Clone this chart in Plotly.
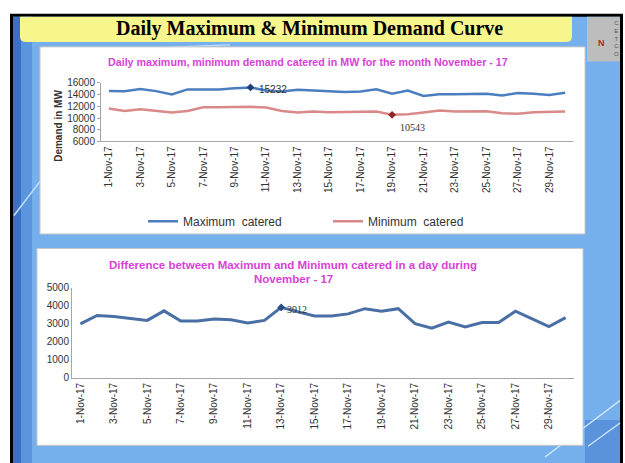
import plotly.graph_objects as go

W, H = 625, 463

days = [f"{d}-Nov-17" for d in range(1, 31)]
tick_labels = [f"{d}-Nov-17" for d in range(1, 30, 2)]

max_catered = [14620, 14600, 14950, 14600, 14050, 14900, 14900, 14900, 15100, 15232,
               14720, 14550, 14850, 14700, 14600, 14450, 14550, 14900, 14170, 14700,
               13780, 14050, 14050, 14050, 14170, 13850, 14280, 14170, 13950, 14330]
min_catered = [11620, 11220, 11500, 11220, 10940, 11220, 11830, 11830, 11830, 11940,
               11780, 11220, 10938, 11100, 11000, 11000, 11000, 11100, 10543, 10650,
               10940, 11270, 11100, 11150, 11150, 10830, 10720, 11000, 11100, 11100]
difference = [3000, 3460, 3410, 3320, 3190, 3720, 3160, 3160, 3270, 3230,
              3050, 3190, 3912, 3660, 3430, 3430, 3550, 3840, 3700, 3840,
              3010, 2760, 3100, 2830, 3070, 3070, 3700, 3280, 2850, 3340]

i_max = max_catered.index(max(max_catered))
i_min = min_catered.index(min(min_catered))
i_diff = difference.index(max(difference))

def px(x):
    return x / W

def py(y):
    return 1 - y / H

BLUE = "#4a7ebf"
RED = "#d98a88"
DIFF = "#4a6fa5"
MAG = "#d93fd9"
TXT = "#333333"
BG = "#76b0ec"

fig = go.Figure()

fig.add_trace(go.Scatter(x=days, y=max_catered, mode="lines", name="Maximum  catered",
                         line=dict(color=BLUE, width=2.5), xaxis="x", yaxis="y"))
fig.add_trace(go.Scatter(x=days, y=min_catered, mode="lines", name="Minimum  catered",
                         line=dict(color=RED, width=2.5), xaxis="x", yaxis="y"))
fig.add_trace(go.Scatter(x=[days[i_max]], y=[max_catered[i_max]], mode="markers",
                         marker=dict(symbol="diamond", size=6, color="#1f3f7a"),
                         showlegend=False, xaxis="x", yaxis="y"))
fig.add_trace(go.Scatter(x=[days[i_min]], y=[min_catered[i_min]], mode="markers",
                         marker=dict(symbol="diamond", size=6, color="#8b2a2a"),
                         showlegend=False, xaxis="x", yaxis="y"))
fig.add_trace(go.Scatter(x=days, y=difference, mode="lines",
                         line=dict(color=DIFF, width=3), showlegend=False,
                         xaxis="x2", yaxis="y2"))
fig.add_trace(go.Scatter(x=[days[i_diff]], y=[difference[i_diff]], mode="markers",
                         marker=dict(symbol="diamond", size=6, color="#2a4a80"),
                         showlegend=False, xaxis="x2", yaxis="y2"))

shapes = []
# black frame + blue slide background
shapes.append(dict(type="rect", xref="paper", yref="paper", x0=px(11.5), x1=px(621.5),
                   y0=py(480), y1=py(9.5), line=dict(color="black", width=3),
                   fillcolor=BG, layer="below"))
# darker left strip
shapes.append(dict(type="rect", xref="paper", yref="paper", x0=px(13), x1=px(21),
                   y0=py(480), y1=py(11), line=dict(width=0),
                   fillcolor="#3a70c8", layer="below"))
shapes.append(dict(type="rect", xref="paper", yref="paper", x0=px(21), x1=px(32),
                   y0=py(480), y1=py(11), line=dict(width=0),
                   fillcolor="#5a95de", layer="below"))
# light streaks
shapes.append(dict(type="line", xref="paper", yref="paper", x0=px(14), y0=py(215),
                   x1=px(40), y1=py(180), line=dict(color="#c0e0ff", width=1.5), layer="below"))
shapes.append(dict(type="line", xref="paper", yref="paper", x0=px(150), y0=py(43),
                   x1=px(230), y1=py(40), line=dict(color="#c0e0ff", width=1.2), layer="below"))
shapes.append(dict(type="rect", xref="paper", yref="paper", x0=px(585), x1=px(620),
                   y0=py(470), y1=py(425), line=dict(width=0),
                   fillcolor="#5a93dc", layer="below"))
shapes.append(dict(type="line", xref="paper", yref="paper", x0=px(545), y0=py(463),
                   x1=px(620), y1=py(405), line=dict(color="#d5eaff", width=1.5), layer="below"))
shapes.append(dict(type="line", xref="paper", yref="paper", x0=px(588), y0=py(452),
                   x1=px(620), y1=py(428), line=dict(color="#d5eaff", width=1.2), layer="below"))
# yellow title box with rounded bottom corners
x0, x1, y0, y1, r = px(20), px(572), py(37), py(11), 6
rx, ry = r / W, r / H
path = (f"M {x0},{y1} L {x1},{y1} L {x1},{y0+ry} Q {x1},{y0} {x1-rx},{y0} "
        f"L {x0+rx},{y0} Q {x0},{y0} {x0},{y0+ry} Z")
shapes.append(dict(type="path", xref="paper", yref="paper", path=path,
                   fillcolor="#f6f68c", line=dict(width=0), layer="below"))
# logo box
shapes.append(dict(type="rect", xref="paper", yref="paper", x0=px(587), x1=px(620),
                   y0=py(57), y1=py(11), line=dict(width=0), fillcolor="#bdbdbd", layer="below"))
# white chart panels
shapes.append(dict(type="rect", xref="paper", yref="paper", x0=px(40), x1=px(585),
                   y0=py(234), y1=py(42), line=dict(color="#c8c8c8", width=1),
                   fillcolor="white", layer="below"))
shapes.append(dict(type="rect", xref="paper", yref="paper", x0=px(37), x1=px(583),
                   y0=py(451), y1=py(249), line=dict(color="#c8c8c8", width=1),
                   fillcolor="white", layer="below"))

def pa(text, x, y, size, color=TXT, family="Liberation Sans", **kw):
    return dict(text=text, x=px(x), y=py(y), xref="paper", yref="paper", showarrow=False,
                xanchor="center", yanchor="middle",
                font=dict(family=family, size=size, color=color), **kw)

annotations = [
    pa("<b>Daily Maximum &amp; Minimum Demand Curve</b>", 309, 23, 20, "black",
       "Liberation Serif"),
    pa("<b>Daily maximum, minimum demand catered in MW for the month November - 17</b>",
       308, 58, 10.7, MAG),
    pa("<b>Demand in MW</b>", 59, 123, 10, TXT, textangle=-90),
    pa("<b>Difference between Maximum and Minimum catered in a day during</b>",
       293, 266, 11.5, MAG),
    pa("<b>November - 17</b>", 293, 280, 11.5, MAG),
    dict(text=str(max_catered[i_max]), x=days[i_max], y=max_catered[i_max],
         xref="x", yref="y", showarrow=False, xanchor="left", xshift=7, yshift=-2,
         font=dict(family="Liberation Sans", size=10, color=TXT)),
    dict(text=str(min_catered[i_min]), x=days[i_min], y=min_catered[i_min],
         xref="x", yref="y", showarrow=False, xanchor="center", xshift=20, yshift=-13,
         font=dict(family="Liberation Serif", size=10, color=TXT)),
    dict(text=str(difference[i_diff]), x=days[i_diff], y=difference[i_diff],
         xref="x2", yref="y2", showarrow=False, xanchor="left", xshift=4, yshift=-2,
         font=dict(family="Liberation Serif", size=10, color=TXT)),
    pa("C<br>E<br>T<br>C<br>O", 616, 33, 6, "#555555"),
    pa("<b>N</b>", 601, 38, 9, "#c02020"),
]

axis_common = dict(showgrid=False, zeroline=False, showline=True, linecolor="#a6a6a6",
                   linewidth=1, tickfont=dict(family="Liberation Sans", size=10, color=TXT))

fig.update_layout(
    width=W, height=H, margin=dict(l=0, r=0, t=0, b=0),
    paper_bgcolor="white", plot_bgcolor="rgba(0,0,0,0)",
    hovermode=False,
    shapes=shapes, annotations=annotations,
    xaxis=dict(domain=[px(101), px(573)], anchor="y", type="category",
               range=[-0.5, 29.5], tickmode="array", tickvals=tick_labels,
               ticktext=tick_labels, tickangle=-90, ticks="", **axis_common),
    yaxis=dict(domain=[py(139), py(79)], anchor="x", range=[6000, 16000], dtick=2000,
               tickformat="d", ticks="outside", ticklen=3, tickcolor="#a6a6a6",
               **axis_common),
    xaxis2=dict(domain=[px(72), px(574)], anchor="y2", type="category",
                range=[-0.5, 29.5], tickmode="array", tickvals=tick_labels,
                ticktext=tick_labels, tickangle=-90, ticks="", **axis_common),
    yaxis2=dict(domain=[py(381.7), py(289.3)], anchor="x2", range=[0, 5000], dtick=1000,
                tickformat="d", ticks="", **axis_common),
    showlegend=True,
    legend=dict(orientation="h", x=px(143), y=py(221), xanchor="left", yanchor="middle",
                entrywidth=140, entrywidthmode="pixels", bgcolor="rgba(0,0,0,0)",
                font=dict(family="Liberation Sans", size=12, color=TXT)),
)

fig.write_html(
    "out.html",
    config={"displayModeBar": False},
    post_script="document.body.style.margin='0';document.body.style.overflow='hidden';",
)
